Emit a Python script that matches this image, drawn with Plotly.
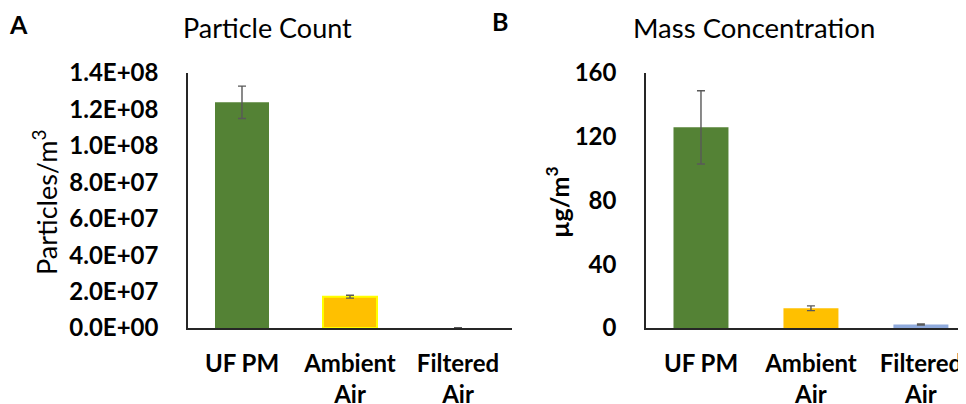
import plotly.graph_objects as go

categories = ["UF PM", "Ambient<br>Air", "Filtered<br>Air"]
count_values = [1.239e8, 1.72e7, 1.5e5]
count_errors = [8.9e6, 8.0e5, None]
mass_values = [125.9, 12.4, 2.2]
mass_errors = [23.0, 1.5, 0.4]
bar_colors = ["#548235", "#FFC000", "#8FAADC"]
count_tickvals = [0, 2e7, 4e7, 6e7, 8e7, 1e8, 1.2e8, 1.4e8]
count_ticktext = ["0.0E+00", "2.0E+07", "4.0E+07", "6.0E+07", "8.0E+07",
                  "1.0E+08", "1.2E+08", "1.4E+08"]
mass_tickvals = [0, 40, 80, 120, 160]

# the page body has an 8px margin; size the figure so it fits the window
OFF = 8
W, H = 966 - OFF, 404 - OFF
FONT = "Lato"
TXT = "#000000"

def fx(px):
    return (px - OFF) / W

def fy(py):
    return (H - (py - OFF)) / H

fig = go.Figure()

fig.add_trace(go.Bar(
    x=categories, y=count_values, xaxis="x", yaxis="y",
    marker=dict(color=bar_colors[:2] + ["#FFFFFF"],
                line=dict(color=["#548235", "#FFFF00", "#FFFFFF"], width=[0, 2, 0])),
    width=0.5,
    error_y=dict(type="data", array=count_errors, color="#595959", thickness=1.4, width=4),
    showlegend=False,
))
fig.add_trace(go.Bar(
    x=categories, y=mass_values, xaxis="x2", yaxis="y2",
    marker=dict(color=bar_colors, line=dict(width=0)),
    width=0.5,
    error_y=dict(type="data", array=mass_errors, color="#595959", thickness=1.4, width=4),
    showlegend=False,
))

ydom = [fy(328), fy(73)]
tickfont = dict(family=FONT, size=24, color=TXT, weight="bold")

fig.update_layout(
    template="none",
    width=W, height=H,
    margin=dict(l=0, r=0, t=0, b=0, pad=0),
    paper_bgcolor="white", plot_bgcolor="white",
    xaxis=dict(domain=[fx(188), fx(512)], range=[-0.5, 2.5], showline=True,
               linecolor="#262626", linewidth=2, ticks="", showgrid=False,
               tickfont=tickfont, ticklabelstandoff=13, automargin=False,
               anchor="y"),
    yaxis=dict(domain=ydom, range=[0, 1.4e8], showline=True, linecolor="#262626",
               linewidth=1.5, ticks="", showgrid=False, zeroline=False,
               tickvals=count_tickvals, ticktext=count_ticktext,
               tickfont=tickfont, ticklabelstandoff=23, anchor="x",
               automargin=False),
    xaxis2=dict(domain=[fx(646), 1.0], range=[-0.5, 2.41], showline=True,
                linecolor="#262626", linewidth=2, ticks="", showgrid=False,
                tickfont=tickfont, ticklabelstandoff=13, anchor="y2",
                automargin=False),
    yaxis2=dict(domain=ydom, range=[0, 160], showline=True, linecolor="#262626",
                linewidth=1.5, ticks="", showgrid=False, zeroline=False,
                tickvals=mass_tickvals, tickfont=tickfont, ticklabelstandoff=23,
                anchor="x2", automargin=False),
)

annotations = [
    dict(text="A", x=fx(18), y=fy(24), xanchor="center", yanchor="middle",
         font=dict(family=FONT, size=25, color=TXT, weight="bold")),
    dict(text="B", x=fx(500), y=fy(21), xanchor="center", yanchor="middle",
         font=dict(family=FONT, size=25, color=TXT, weight="bold")),
    dict(text="Particle Count", x=fx(267), y=fy(27), xanchor="center", yanchor="middle",
         font=dict(family=FONT, size=27, color=TXT)),
    dict(text="Mass Concentration", x=fx(754), y=fy(27), xanchor="center", yanchor="middle",
         font=dict(family=FONT, size=27.5, color=TXT)),
    dict(text="Particles/m<sup>3</sup>", x=fx(45), y=fy(202), textangle=-90,
         xanchor="center", yanchor="middle",
         font=dict(family=FONT, size=27, color=TXT)),
    dict(text="µg/m<sup>3</sup>", x=fx(557), y=fy(202), textangle=-90,
         xanchor="center", yanchor="middle",
         font=dict(family=FONT, size=25, color=TXT, weight="bold")),
]
for a in annotations:
    a.update(xref="paper", yref="paper", showarrow=False)
fig.update_layout(annotations=annotations)

fig.write_html("out.html")
